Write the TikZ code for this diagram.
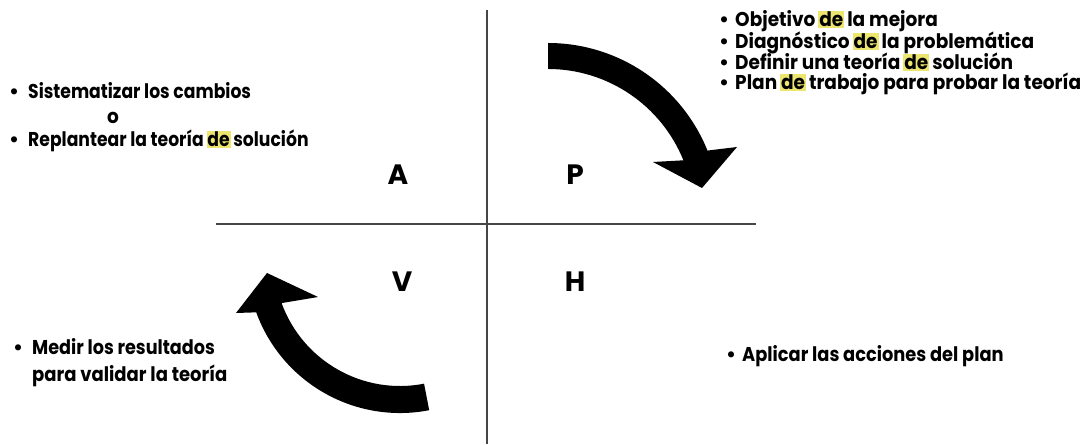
\documentclass[tikz,border=0pt]{standalone}
\usepackage{fontspec}
\setmainfont{Poppins}
\usepackage{graphicx}
\definecolor{hly}{RGB}{236,230,110}
\definecolor{axisgray}{RGB}{70,70,70}
% highlighted connective, padded without changing the spacing
\newcommand{\hlde}{\kern-1pt{\setlength{\fboxsep}{1pt}\colorbox{hly}{de}}\kern-1pt}
% horizontal condensing of the body text (default factor 0.925)
\newcommand{\cond}[2][0.925]{\scalebox{#1}[1]{#2}}
% bullet item: #2 = width reserved for the bullet, #3 = text
\newcommand{\itm}[3][0.925]{\makebox[#2pt][l]{\textbullet}\cond[#1]{#3}}

\begin{document}
\begin{tikzpicture}[x=1pt,y=1pt]
\tikzset{
  txt/.style={anchor=base west, inner sep=0pt, font=\fontsize{20}{22}\selectfont\bfseries},
  letter/.style={inner sep=0pt, font=\fontsize{28}{30}\selectfont\bfseries},
  axisline/.style={draw=axisgray, line width=1.8pt},
  bigarrow/.style={fill=black}
}
\useasboundingbox (0,0) rectangle (1083,444);

% quadrant axes
\coordinate (top) at (487,434);
\coordinate (bottom) at (487,0);
\coordinate (left) at (216,220);
\coordinate (right) at (756,220);
\draw[axisline] (top) -- (bottom);
\draw[axisline] (left) -- (right);

% quadrant letters
\node[letter] (A) at (398,269) {A};
\node[letter] (P) at (575,269) {P};
\node[letter] (V) at (402,162) {V};
\node[letter] (H) at (575,162) {H};

% P: planning
\node[txt] (p1) at (719,417) {\itm{16}{Objetivo \hlde{} la mejora}};
\node[txt] (p2) at (719,395) {\itm{16}{Diagnóstico \hlde{} la problemática}};
\node[txt] (p3) at (719,374) {\itm{16}{Definir una teoría \hlde{} solución}};
\node[txt] (p4) at (719,354) {\itm{16}{Plan \hlde{} trabajo para probar la teoría}};

% A: act
\node[txt] (a1) at (9,345) {\itm[0.86]{19}{Sistematizar los cambios}};
\node[txt, anchor=base] (a2) at (113,320) {\cond{o}};
\node[txt] (a3) at (9,297) {\itm[0.86]{19}{Replantear la teoría \hlde{} solución}};

% V: verify
\node[txt] (v1) at (13,89) {\itm[0.88]{19}{Medir los resultados}};
\node[txt] (v2) at (32,62) {\cond[0.9]{para validar la teoría}};

% H: do
\node[txt] (h1) at (726,82) {\itm[0.89]{16}{Aplicar las acciones del plan}};

% clockwise curved arrows
\fill[bigarrow] (548,401) arc[start angle=90, end angle=22, radius=172]
  -- (737,297) -- (702,256) -- (653,282) -- (683.4,283.7)
  arc[start angle=22, end angle=90, radius=146] -- cycle;
\fill[bigarrow] (429.2,33.8) arc[start angle=-79, end angle=-160, radius=153]
  -- (236,131) -- (267,171) -- (318,147) -- (281.6,140.9)
  arc[start angle=-160, end angle=-79, radius=126] -- cycle;
\end{tikzpicture}
\end{document}
